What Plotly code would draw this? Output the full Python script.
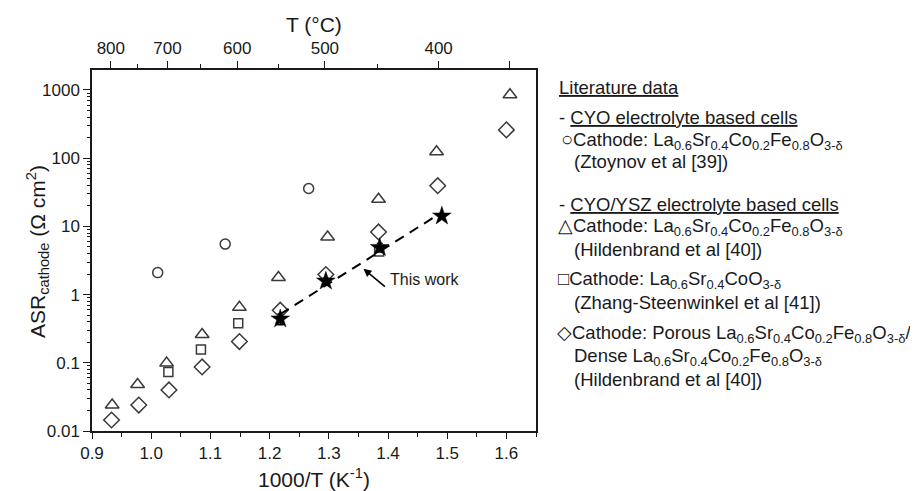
import numpy as np
import plotly.graph_objects as go

# ---------------- data ----------------
ztoynov_x = [1.011, 1.125, 1.266]
ztoynov_y = [2.1, 5.5, 36.0]

hild_lscf_x = [0.934, 0.977, 1.026, 1.086, 1.149, 1.215, 1.298, 1.384, 1.482, 1.606]
hild_lscf_y = [0.024, 0.048, 0.099, 0.26, 0.65, 1.78, 7.0, 25.0, 124.0, 850.0]

zhang_x = [1.029, 1.084, 1.147, 1.385]
zhang_y = [0.073, 0.157, 0.38, 4.3]

hild_pd_x = [0.933, 0.979, 1.030, 1.086, 1.149, 1.218, 1.295, 1.384, 1.484, 1.600]
hild_pd_y = [0.0145, 0.024, 0.040, 0.087, 0.205, 0.59, 1.97, 8.3, 39.5, 260.0]

this_x = [1.218, 1.295, 1.386, 1.491]
this_y = [0.44, 1.58, 4.9, 14.2]
this_err = [0.08, 0.15, 0.7, 0.8]

top_T_labels = [800, 700, 600, 500, 400, 350]
top_T_minor = [750, 650, 550, 450]
y_tick_vals = [0.01, 0.1, 1, 10, 100, 1000]
y_tick_text = ["0.01", "0.1", "1", "10", "100", "1000"]
x_tick_vals = [0.9, 1.0, 1.1, 1.2, 1.3, 1.4, 1.5, 1.6]

# ---------------- layout constants ----------------
OFF = 8  # page body margin in the browser
SW, SH = 918, 491          # screen size
W, H = SW - OFF, SH - OFF  # figure size
# plot area in screen pixels: x 92..536, y 70..431
L, T = 92 - OFF, 70 - OFF
R = SW - 536
B = SH - 431
FONT = "Arial, 'Liberation Sans', Helvetica, sans-serif"
INK = "#1a1a1a"
MK = "#3a3a3a"


def px(xs):
    """screen x pixel -> paper coordinate"""
    return (xs - 92) / (536 - 92)


def py(ys):
    """screen y pixel -> paper coordinate"""
    return (431 - ys) / (431 - 70)


fig = go.Figure()

mline = dict(color=MK, width=1.5)
fig.add_trace(go.Scatter(x=ztoynov_x, y=ztoynov_y, mode="markers",
                         marker=dict(symbol="circle-open", size=10, line=mline, color=MK)))
fig.add_trace(go.Scatter(x=hild_lscf_x, y=hild_lscf_y, mode="markers",
                         marker=dict(symbol="triangle-up-open", size=12, line=mline, color=MK)))
fig.add_trace(go.Scatter(x=zhang_x, y=zhang_y, mode="markers",
                         marker=dict(symbol="square-open", size=9, line=mline, color=MK)))
fig.add_trace(go.Scatter(x=hild_pd_x, y=hild_pd_y, mode="markers",
                         marker=dict(symbol="diamond-open", size=12, line=mline, color=MK)))

# fitted line through this work (log-linear)
coef = np.polyfit(this_x, np.log10(this_y), 1)
fx = np.array([min(this_x), max(this_x)])
fy = 10 ** np.polyval(coef, fx)
fig.add_trace(go.Scatter(x=fx, y=fy, mode="lines",
                         line=dict(color="black", width=2, dash="10px,7px")))

fig.add_trace(go.Scatter(x=this_x, y=this_y, mode="markers",
                         error_y=dict(type="data", array=this_err, color="black",
                                      thickness=1.5, width=3),
                         marker=dict(symbol="star", size=14, color="black",
                                     line=dict(color="black", width=0.5))))

# invisible trace to activate the top axis
fig.add_trace(go.Scatter(x=this_x, y=this_y, mode="markers", xaxis="x2",
                         marker=dict(opacity=0), hoverinfo="skip"))

top_vals = [1000.0 / (t + 273.15) for t in top_T_labels]
top_text = [str(t) if t != 350 else "" for t in top_T_labels]
top_minor = [1000.0 / (t + 273.15) for t in top_T_minor]

y_minor = [m * 10.0 ** e for e in range(-2, 4) for m in range(2, 10)]

axis_common = dict(showgrid=False, zeroline=False, showline=True, linecolor=INK,
                   linewidth=1.5, ticks="outside", tickcolor=INK, tickwidth=1.2,
                   tickfont=dict(family=FONT, size=17, color=INK))

fig.update_layout(
    width=W, height=H,
    margin=dict(l=L, r=R, t=T, b=B),
    paper_bgcolor="white", plot_bgcolor="white",
    showlegend=False,
    font=dict(family=FONT, color=INK),
    xaxis=dict(range=[0.9, 1.65], tickvals=x_tick_vals,
               ticktext=["%.1f" % v for v in x_tick_vals], ticklen=6,
               minor=dict(tickvals=[v + 0.05 for v in x_tick_vals], ticks="outside",
                          ticklen=4, tickcolor=INK, tickwidth=1.2),
               mirror=False, **axis_common),
    xaxis2=dict(range=[0.9, 1.65], overlaying="x", side="top", anchor="y",
                tickvals=top_vals, ticktext=top_text, ticklen=7,
                minor=dict(tickvals=top_minor, ticks="outside", ticklen=4,
                           tickcolor=INK, tickwidth=1.2),
                **axis_common),
    yaxis=dict(type="log", range=[-2, 3.293], tickvals=y_tick_vals, ticktext=y_tick_text,
               ticklen=7, mirror=True,
               minor=dict(tickvals=y_minor, ticks="outside", ticklen=3,
                          tickcolor=INK, tickwidth=1),
               **axis_common),
)

ann = []
# axis titles
ann.append(dict(text="1000/T (K<sup>-1</sup>)", xref="paper", yref="paper",
                x=px(314), y=py(478), showarrow=False, xanchor="center", yanchor="middle",
                font=dict(family=FONT, size=21, color=INK)))
ann.append(dict(text="T (°C)", xref="paper", yref="paper",
                x=px(314), y=py(24), showarrow=False, xanchor="center", yanchor="middle",
                font=dict(family=FONT, size=21, color=INK)))
ann.append(dict(text="ASR<sub>cathode</sub> (Ω cm<sup>2</sup>)", xref="paper", yref="paper",
                x=px(37), y=py(252), showarrow=False, xanchor="center", yanchor="middle",
                textangle=-90, font=dict(family=FONT, size=21, color=INK)))

# "This work" arrow and label
ann.append(dict(text="", x=1.3585, y=np.log10(2.39), xref="x", yref="y",
                ax=23, ay=19, axref="pixel", ayref="pixel", showarrow=True,
                arrowhead=2, arrowsize=1, arrowwidth=1.6, arrowcolor="black"))
ann.append(dict(text="This work", x=1.400, y=np.log10(1.69), xref="x", yref="y",
                showarrow=False, xanchor="left", yanchor="middle",
                font=dict(family=FONT, size=16, color=INK)))

# legend block
LSCF = "La<sub>0.6</sub>Sr<sub>0.4</sub>Co<sub>0.2</sub>Fe<sub>0.8</sub>O<sub>3-δ</sub>"
legend_lines = [
    (557, 87, "<u>Literature data</u>"),
    (557, 118, "- <u>CYO electrolyte based cells</u>"),
    (559, 140, "<span style='font-size:20px'>○</span>Cathode: " + LSCF),
    (572, 161, "(Ztoynov et al [39])"),
    (557, 204, "- <u>CYO/YSZ electrolyte based cells</u>"),
    (556, 227, "△Cathode: " + LSCF),
    (572, 249, "(Hildenbrand et al [40])"),
    (556, 280, "□Cathode: La<sub>0.6</sub>Sr<sub>0.4</sub>CoO<sub>3-δ</sub>"),
    (572, 302, "(Zhang-Steenwinkel et al [41])"),
    (555, 334, "◇Cathode: Porous " + LSCF + "/"),
    (572, 357, "Dense " + LSCF),
    (572, 379, "(Hildenbrand et al [40])"),
]
for xs, ys, txt in legend_lines:
    ann.append(dict(text=txt, xref="paper", yref="paper", x=px(xs), y=py(ys),
                    showarrow=False, xanchor="left", yanchor="middle",
                    font=dict(family=FONT, size=18.5, color=INK)))

fig.update_layout(annotations=ann)
fig.write_html("out.html")
